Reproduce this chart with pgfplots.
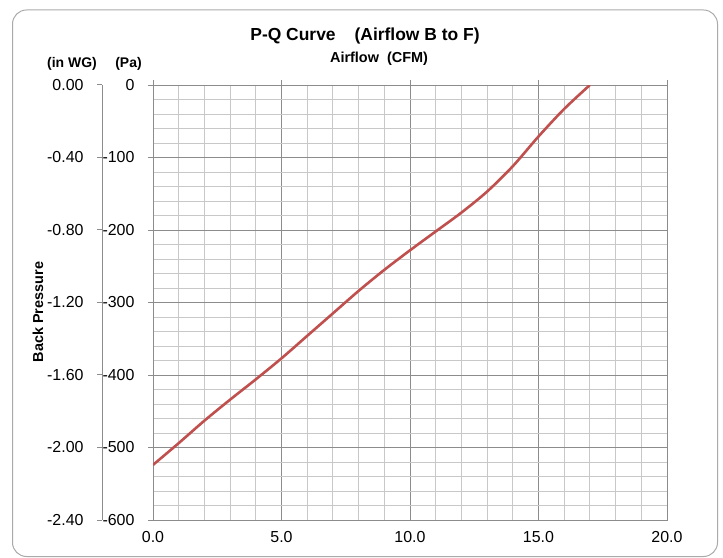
\documentclass[border=0pt]{standalone}
\usepackage{fontspec}
\setmainfont{Liberation Sans}
\usepackage{pgfplots}
\pgfplotsset{compat=1.18}
\definecolor{curvered}{RGB}{192,80,77}
\definecolor{majorgrid}{RGB}{140,140,140}
\definecolor{minorgrid}{RGB}{200,200,200}
\definecolor{framegray}{RGB}{170,170,170}

\pgfplotstableread{
x   p
0   -524
1   -494
2   -463
3   -434
4   -406
5   -377
6   -346
7   -315
8   -284
9   -255
10  -228
11  -202
12  -176
13  -147
14  -112
15  -71
16  -33
17  0
}\pqdata

\begin{document}
\begin{tikzpicture}
\path (0,0) rectangle (723bp,558bp);
\draw[framegray, line width=1bp, rounded corners=14bp] (12.5bp,1.5bp) rectangle (717.5bp,548bp);

% titles and unit labels
\node[font=\bfseries\fontsize{17.5}{20}\selectfont, anchor=base] at (365bp,517bp) {P-Q Curve\hspace{19bp}(Airflow B to F)};
\node[font=\bfseries\fontsize{14.5}{17}\selectfont, anchor=base] at (379bp,495bp) {Airflow\hspace{8bp}(CFM)};
\node[font=\bfseries\fontsize{14}{17}\selectfont, anchor=base] at (72bp,490bp) {(in WG)};
\node[font=\bfseries\fontsize{14}{17}\selectfont, anchor=base] at (128.5bp,490bp) {(Pa)};
\node[font=\bfseries\fontsize{14.5}{17}\selectfont, rotate=90] at (38bp,246bp) {Back Pressure};

% main axis (Pa)
\begin{axis}[
  at={(153bp,38bp)}, anchor=south west,
  scale only axis, width=514bp, height=435bp,
  xmin=0, xmax=20, ymin=-600, ymax=0,
  xtick={0,5,...,20}, ytick={-600,-500,...,0},
  minor x tick num=4, minor y tick num=4,
  grid=both,
  major grid style={majorgrid, line width=1bp},
  minor grid style={minorgrid, line width=1bp},
  axis line style={majorgrid, line width=1bp},
  tick style={majorgrid, line width=1bp},
  major tick length=5bp, minor tick length=0pt,
  tick align=outside,
  xtick pos=right, xticklabel pos=left,
  ytick pos=left,
  ticklabel style={font=\fontsize{16}{19}\selectfont},
  /pgf/number format/assume math mode=true,
  xticklabel style={yshift=-3bp, /pgf/number format/.cd, fixed, fixed zerofill, precision=1},
  yticklabel style={xshift=-10bp},
]
\addplot[curvered, line width=2.6bp, smooth] table[x=x, y=p] {\pqdata};
\end{axis}

% secondary axis (in WG)
\begin{axis}[
  at={(102bp,38bp)}, anchor=south west,
  scale only axis, width=514bp, height=435bp,
  xmin=0, xmax=1, ymin=-2.4, ymax=0,
  axis x line=none, axis y line*=left,
  ytick={-2.4,-2.0,-1.6,-1.2,-0.8,-0.4,0},
  axis line style={majorgrid, line width=1bp},
  tick style={majorgrid, line width=1bp},
  major tick length=5bp,
  tick align=outside,
  ticklabel style={font=\fontsize{16}{19}\selectfont},
  /pgf/number format/assume math mode=true,
  yticklabel style={xshift=-10bp, /pgf/number format/.cd, fixed, fixed zerofill, precision=2},
]
\end{axis}
\end{tikzpicture}
\end{document}
